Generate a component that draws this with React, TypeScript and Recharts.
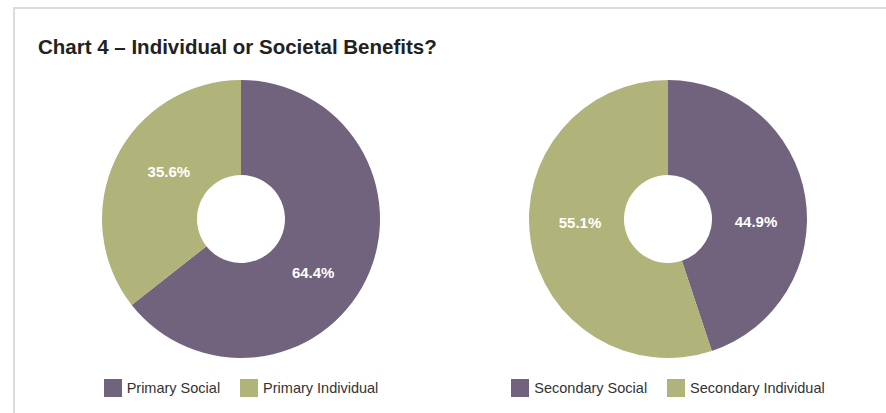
import React from "react";
import { PieChart, Pie, Cell, Legend } from "recharts";

const TITLE = "Chart 4 – Individual or Societal Benefits?";

const primaryNames = ["Primary Social", "Primary Individual"];
const primaryValues = [64.4, 35.6];

const secondaryNames = ["Secondary Social", "Secondary Individual"];
const secondaryValues = [44.9, 55.1];

const COLORS = ["#71637e", "#b0b47a"];
const FONT = '"Liberation Sans", Arial, Helvetica, sans-serif';

const toRows = (names: string[], values: number[]) =>
  names.map((name, i) => ({ name, value: values[i] }));

const RADIAN = Math.PI / 180;
const LABEL_ANGLE_SHIFT = 9;

const renderLabel = (props: any) => {
  const { cx, cy, midAngle, value } = props;
  const r = 88;
  const a = midAngle - LABEL_ANGLE_SHIFT;
  const x = cx + r * Math.cos(-a * RADIAN);
  const y = cy + r * Math.sin(-a * RADIAN) + 3;
  return (
    <text
      x={x}
      y={y}
      fill="#ffffff"
      textAnchor="middle"
      dominantBaseline="central"
      fontSize={15}
      fontWeight="bold"
      fontFamily={FONT}
    >
      {`${Number(value).toFixed(1)}%`}
    </text>
  );
};

const LegendContent = (props: any) => {
  const { payload, names } = props;
  const items = [...(payload || [])].sort(
    (a: any, b: any) => names.indexOf(a.value) - names.indexOf(b.value)
  );
  return (
    <div
      style={{
        display: "flex",
        justifyContent: "center",
        alignItems: "center",
        fontFamily: FONT,
        fontSize: 14.5,
        color: "#333333",
      }}
    >
      {items.map((entry: any, i: number) => (
        <div
          key={i}
          style={{
            display: "flex",
            alignItems: "center",
            marginRight: i < items.length - 1 ? 20 : 0,
          }}
        >
          <span
            style={{
              display: "inline-block",
              width: 18,
              height: 18,
              background: COLORS[names.indexOf(entry.value) % COLORS.length],
              marginRight: 5,
            }}
          />
          <span style={{ lineHeight: "18px" }}>{entry.value}</span>
        </div>
      ))}
    </div>
  );
};

const Donut = ({ names, values, left }: { names: string[]; values: number[]; left: number }) => {
  const rows = toRows(names, values);
  return (
    <div style={{ position: "absolute", left, top: 70 }}>
      <PieChart width={440} height={340} margin={{ top: 0, right: 0, bottom: 0, left: 0 }}>
        <Pie
          data={rows}
          dataKey="value"
          nameKey="name"
          cx={220}
          cy={149}
          innerRadius={44}
          outerRadius={139}
          startAngle={90}
          endAngle={-270}
          stroke="none"
          labelLine={false}
          label={renderLabel}
          isAnimationActive={false}
        >
          {rows.map((_, i) => (
            <Cell key={i} fill={COLORS[i % COLORS.length]} />
          ))}
        </Pie>
        <Legend
          verticalAlign="bottom"
          content={<LegendContent names={names} />}
          wrapperStyle={{ left: 0, width: 440, bottom: 13 }}
        />
      </PieChart>
    </div>
  );
};

export default function App() {
  return (
    <div
      style={{
        position: "absolute",
        left: 0,
        top: 0,
        width: 886,
        height: 413,
        overflow: "hidden",
        background: "#ffffff",
      }}
    >
      <div
        style={{
          position: "absolute",
          left: 13,
          top: 7,
          width: 873,
          height: 406,
          boxSizing: "border-box",
          borderTop: "2px solid #dcdcdc",
          borderLeft: "2px solid #dcdcdc",
        }}
      />
      <div
        style={{
          position: "absolute",
          left: 38,
          top: 37,
          fontFamily: FONT,
          fontWeight: "bold",
          fontSize: 20.5,
          lineHeight: "20px",
          color: "#222222",
          whiteSpace: "nowrap",
        }}
      >
        {TITLE}
      </div>
      <Donut names={primaryNames} values={primaryValues} left={21} />
      <Donut names={secondaryNames} values={secondaryValues} left={448} />
    </div>
  );
}
